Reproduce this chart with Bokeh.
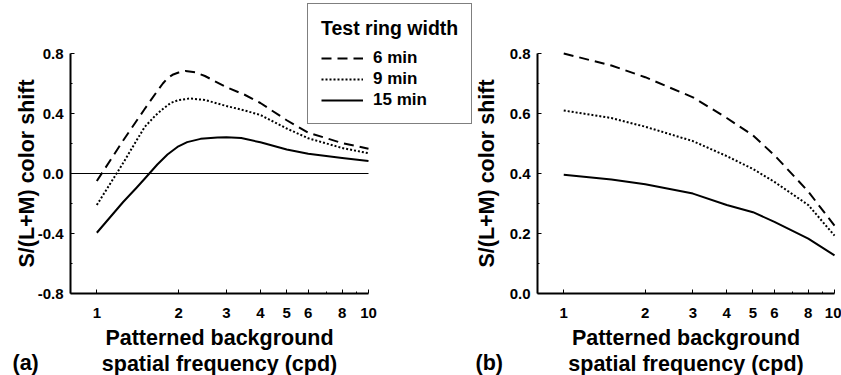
import math
from bokeh.plotting import figure
from bokeh.models import (FixedTicker, PrintfTickFormatter, CustomJSTickFormatter,
                          Label, Legend, LegendItem, LogAxis, LinearAxis, LogScale, Range1d)
from bokeh.embed import file_html
from bokeh.resources import INLINE

# ---------------- data ----------------
freq_a6 = [1, 1.25, 1.5, 1.67, 1.75, 1.82, 1.9, 2, 2.12, 2.3, 2.5, 3, 3.5, 4, 5, 6, 8, 10]
a_6min = [-0.05, 0.22, 0.43, 0.55, 0.60, 0.635, 0.658, 0.673, 0.683, 0.675, 0.65, 0.575, 0.525, 0.47,
          0.355, 0.272, 0.203, 0.165]
freq_a9 = [1, 1.25, 1.4, 1.5, 1.65, 1.75, 1.87, 2, 2.2, 2.5, 3, 3.5, 4, 5, 6, 8, 10]
a_9min = [-0.21, 0.07, 0.22, 0.31, 0.39, 0.43, 0.47, 0.49, 0.50, 0.49, 0.45, 0.42, 0.39, 0.30,
          0.235, 0.17, 0.135]
freq_a15 = [1, 1.25, 1.4, 1.5, 1.67, 1.82, 1.98, 2.15, 2.41, 2.78, 3, 3.4, 4, 5, 6, 8, 10]
a_15min = [-0.395, -0.19, -0.095, -0.035, 0.06, 0.127, 0.177, 0.209, 0.231, 0.24, 0.241, 0.236,
           0.208, 0.16, 0.132, 0.104, 0.083]

freq_b = [1, 1.5, 2, 3, 4, 5, 6, 8, 10]
b_6min = [0.80, 0.76, 0.721, 0.654, 0.585, 0.527, 0.461, 0.34, 0.226]
b_9min = [0.61, 0.585, 0.556, 0.508, 0.458, 0.415, 0.372, 0.295, 0.193]
b_15min = [0.396, 0.38, 0.364, 0.333, 0.295, 0.271, 0.239, 0.183, 0.127]

x_ticks = [1, 2, 3, 4, 5, 6, 8, 10]
x_minor = [7, 9]
x_lim = (0.8, 10)
ya_lim = (-0.8, 0.8)
ya_ticks = [-0.8, -0.4, 0.0, 0.4, 0.8]
ya_minor = [-0.6, -0.2, 0.2, 0.6]
yb_lim = (0.0, 0.8)
yb_ticks = [0.0, 0.2, 0.4, 0.6, 0.8]
yb_minor = [0.1, 0.3, 0.5, 0.7]

series_labels = ["6 min", "9 min", "15 min"]
legend_title = "Test ring width"
x_label = "Patterned background\nspatial frequency (cpd)"
y_label = "S/(L+M) color shift"
panel_tags = ["(a)", "(b)"]

# ---------------- layout (pixels) ----------------
W, H = 841, 375
TOP, BOTTOM = 53, 293
A_LEFT, A_RIGHT = 70, 368
B_LEFT, B_RIGHT = 537, 834
FONT = "Liberation Sans"
DASHES = ["10 6", "2 2", "solid"]


def log_range(lim, px0, px1):
    lo, hi = math.log10(lim[0]), math.log10(lim[1])
    k = (px1 - px0) / (hi - lo)
    return Range1d(10 ** (lo - px0 / k), 10 ** (hi + (W - px1) / k))


def lin_range(lim):
    k = (BOTTOM - TOP) / (lim[1] - lim[0])
    return Range1d(lim[0] - (H - BOTTOM) / k, lim[1] + TOP / k)


p = figure(width=W, height=H, x_axis_type="log",
           x_range=log_range(x_lim, A_LEFT, A_RIGHT), y_range=lin_range(ya_lim),
           x_axis_location=None, y_axis_location=None,
           min_border=0, output_backend="svg", toolbar_location=None)
p.extra_x_ranges = {"b": log_range(x_lim, B_LEFT, B_RIGHT)}
p.extra_x_scales = {"b": LogScale()}
p.extra_y_ranges = {"b": lin_range(yb_lim)}
p.outline_line_color = None
p.grid.visible = False
p.background_fill_color = "white"
p.border_fill_color = "white"


def style_axis(ax):
    ax.axis_line_width = 2
    ax.axis_line_color = "black"
    ax.major_tick_in = 4
    ax.major_tick_out = 0
    ax.minor_tick_in = 2
    ax.minor_tick_out = 0
    ax.major_tick_line_color = "black"
    ax.minor_tick_line_color = "black"
    ax.major_label_text_font = FONT
    ax.major_label_text_font_style = "bold"
    ax.major_label_text_font_size = "15px"
    ax.major_label_text_color = "black"
    ax.axis_label_text_font = FONT
    ax.axis_label_text_font_style = "bold"
    ax.axis_label_text_font_size = "21.5px"
    ax.axis_label_text_color = "black"
    return ax


def add_axes(rn, ylim, yt, ym, ylab_standoff):
    xa = LogAxis(x_range_name=rn, y_range_name=rn, fixed_location=ylim[0], bounds=x_lim,
                 ticker=FixedTicker(ticks=x_ticks, minor_ticks=x_minor),
                 formatter=CustomJSTickFormatter(code="return tick.toFixed(0)"),
                 axis_label=x_label, axis_label_standoff=5, major_label_standoff=14)
    style_axis(xa)
    xa.axis_label_text_line_height = 1.1
    p.add_layout(xa, "below")
    ya = LinearAxis(x_range_name=rn, y_range_name=rn, fixed_location=x_lim[0], bounds=ylim,
                    ticker=FixedTicker(ticks=yt, minor_ticks=ym),
                    formatter=PrintfTickFormatter(format="%.1f"),
                    axis_label=y_label, axis_label_standoff=ylab_standoff, major_label_standoff=7)
    style_axis(ya)
    p.add_layout(ya, "left")


add_axes("default", ya_lim, ya_ticks, ya_minor, -4)
add_axes("b", yb_lim, yb_ticks, yb_minor, 8)

# zero reference line in panel (a)
p.segment(x0=x_lim[0], x1=x_lim[1], y0=0, y1=0, line_color="black", line_width=1)

renderers = []
for xs, ys, dash in zip([freq_a6, freq_a9, freq_a15], [a_6min, a_9min, a_15min], DASHES):
    renderers.append(p.line(xs, ys, line_color="black", line_width=2, line_dash=dash,
                            line_join="round"))
for ys, dash in zip([b_6min, b_9min, b_15min], DASHES):
    p.line(freq_b, ys, line_color="black", line_width=2, line_dash=dash, line_join="round",
           x_range_name="b", y_range_name="b")

legend = Legend(items=[LegendItem(label=lab, renderers=[r]) for lab, r in zip(series_labels, renderers)],
                location=(307, 251), title=legend_title,
                title_text_font=FONT, title_text_font_style="bold", title_text_font_size="19.5px",
                title_text_line_height=1.0, title_text_color="black",
                label_text_font=FONT, label_text_font_style="bold", label_text_font_size="17px",
                label_text_line_height=1.1, label_text_color="black",
                border_line_color="black", border_line_width=1.5, background_fill_alpha=1,
                padding=13, spacing=1, title_standoff=8, glyph_width=42, glyph_height=20,
                label_height=20, label_standoff=10, margin=0)
p.add_layout(legend, "center")

for tag, tx in zip(panel_tags, [12, 475]):
    p.add_layout(Label(x=tx, y=13, x_units="screen", y_units="screen", text=tag,
                       text_font=FONT, text_font_style="bold", text_font_size="21.5px",
                       text_baseline="middle", text_color="black"))

open("out.html", "w").write(file_html(p, INLINE))
